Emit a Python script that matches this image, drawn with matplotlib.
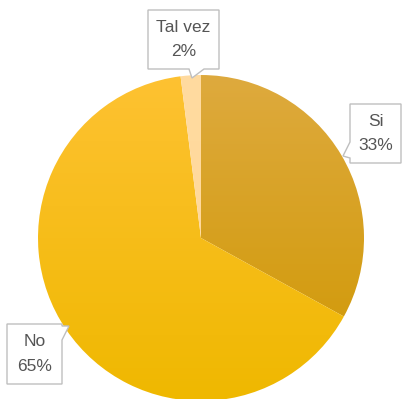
import numpy as np
import matplotlib
matplotlib.use("Agg")
import matplotlib.pyplot as plt
from matplotlib.colors import LinearSegmentedColormap
from matplotlib.patches import Polygon

# answer shares (percent), drawn clockwise from 12 o'clock
categories = ["Si", "No", "Tal vez"]
shares = [33, 65, 2]
pct_labels = ["33%", "65%", "2%"]

# top / bottom colour of each slice's vertical gradient
grad_top = ["#DEAA3E", "#FEC232", "#FFDBA0"]
grad_bottom = ["#CF9700", "#EFB800", "#FFD696"]

W, H = 403, 399
fig = plt.figure(figsize=(W / 100, H / 100), dpi=100)
ax = fig.add_axes([0, 0, 1, 1])

cx, cy, r = 201, H - 238, 163
wedges, _ = ax.pie(shares, startangle=90, counterclock=False, center=(cx, cy),
                   radius=r, wedgeprops=dict(linewidth=0))

# fill each wedge with a soft top-to-bottom gradient
grad = np.linspace(0, 1, 256).reshape(-1, 1)
for w, c0, c1 in zip(wedges, grad_top, grad_bottom):
    cmap = LinearSegmentedColormap.from_list("g", [c0, c1])
    w.set_facecolor("none")
    im = ax.imshow(grad, cmap=cmap, aspect="auto",
                   extent=(cx - r, cx + r, cy - r, cy + r), origin="upper", zorder=1)
    im.set_clip_path(w)


def callout(ax, x0, y0, x1, y1, notch, tip, lines):
    """Label box in image pixels (y down) with a small pointer."""
    side, a, b = notch
    if side == "bottom":
        pts = [(x0, y0), (x1, y0), (x1, y1), (b, y1), tip, (a, y1), (x0, y1)]
    elif side == "left":
        pts = [(x0, y0), (x1, y0), (x1, y1), (x0, y1), (x0, b), tip, (x0, a)]
    else:  # right side
        pts = [(x0, y0), (x1, y0), (x1, a), tip, (x1, b), (x1, y1), (x0, y1)]
    pts = [(px, H - py) for px, py in pts]
    ax.add_patch(Polygon(pts, closed=True, facecolor="white", edgecolor="#BFBFBF",
                         linewidth=1.0, zorder=3))
    xm = (x0 + x1) / 2
    ym = (y0 + y1) / 2
    for k, s in enumerate(lines):
        ax.text(xm, H - (ym + (k - 0.5) * 25), s, ha="center", va="center",
                fontsize=12.5, color="#555555", family="Liberation Sans", zorder=4)


callout(ax, 148, 10, 219, 69, ("bottom", 189, 204), (192, 78),
        [categories[2], pct_labels[2]])
callout(ax, 350, 104, 401, 163, ("left", 142, 158), (343, 156),
        [categories[0], pct_labels[0]])
callout(ax, 7, 324, 62, 384, ("right", 326, 340), (69, 326),
        [categories[1], pct_labels[1]])

ax.set_xlim(0, W)
ax.set_ylim(0, H)
ax.set_aspect("auto")
ax.axis("off")

fig.savefig("out.png", dpi=100)
